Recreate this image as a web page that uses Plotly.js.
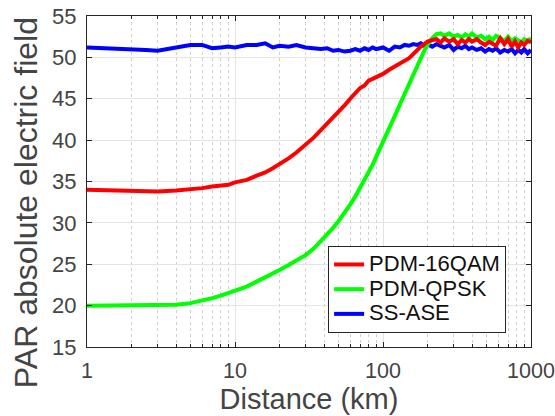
<!DOCTYPE html>
<html>
<head>
<meta charset="utf-8">
<script src="https://cdn.plot.ly/plotly-3.0.1.min.js"></script>
<style>html,body{margin:0;padding:0;background:#fff}#chart{width:555px;height:416px}</style>
</head>
<body>
<div id="chart"></div>
<script>
const distance = [1, 1.5, 2, 2.5, 3, 4, 5, 6, 7, 8, 9, 10, 12, 14, 16, 18, 20, 23, 26, 30, 34, 38, 42, 46, 50, 55, 60, 65, 70, 75, 80, 85, 90, 95, 100, 110, 120, 130, 140, 150, 160, 170, 180, 190, 200, 215, 230, 245, 260, 280, 300, 320, 340, 360, 380, 400, 430, 460, 490, 520, 550, 580, 620, 660, 700, 740, 780, 820, 860, 900, 950, 1000];

const pdm16qam = [34.0, 33.9, 33.8, 33.8, 33.8, 33.9, 34.0, 34.2, 34.4, 34.5, 34.6, 34.9, 35.2, 35.7, 36.1, 36.6, 37.1, 37.8, 38.5, 39.4, 40.3, 41.2, 42.0, 42.6, 43.3, 44.2, 45.0, 45.6, 46.3, 46.6, 47.2, 47.4, 47.6, 47.9, 48.0, 48.5, 48.9, 49.2, 49.6, 49.9, 50.4, 50.9, 51.3, 51.6, 51.9, 52.1, 52.2, 51.8, 52.3, 51.9, 52.2, 51.6, 52.1, 51.8, 52.2, 51.9, 52.2, 51.8, 51.5, 51.9, 51.7, 51.4, 52.3, 51.6, 52.2, 51.3, 51.9, 51.2, 51.8, 51.5, 52.0, 51.8];

const pdmqpsk = [20.0, 20.0, 20.0, 20.0, 20.0, 20.1, 20.3, 20.6, 20.9, 21.2, 21.5, 21.8, 22.3, 22.9, 23.4, 23.9, 24.3, 24.9, 25.4, 26.1, 26.9, 27.8, 28.7, 29.4, 30.2, 31.2, 32.2, 33.2, 34.2, 35.2, 36.1, 37.0, 38.0, 38.9, 39.6, 41.3, 42.9, 44.3, 45.6, 46.8, 48.0, 49.0, 49.9, 50.8, 51.5, 52.3, 52.8, 52.9, 52.6, 52.9, 52.5, 52.7, 52.4, 52.8, 52.5, 52.9, 52.4, 52.6, 52.2, 52.5, 52.1, 52.6, 52.3, 52.0, 52.5, 51.9, 52.3, 52.1, 51.8, 52.2, 52.0, 52.3];

const ssase = [51.2, 51.1, 51.0, 50.9, 50.8, 51.2, 51.5, 51.5, 51.1, 51.2, 51.3, 51.2, 51.5, 51.5, 51.7, 51.2, 51.4, 51.3, 51.5, 51.2, 51.1, 51.0, 51.1, 50.8, 50.9, 50.7, 50.8, 51.0, 50.8, 51.1, 50.9, 51.2, 51.0, 51.1, 51.2, 50.8, 51.3, 51.2, 51.5, 51.4, 51.6, 51.5, 51.7, 51.4, 51.6, 51.3, 51.6, 51.4, 51.2, 51.5, 50.9, 51.3, 51.1, 51.4, 51.0, 51.2, 50.9, 51.1, 50.7, 51.0, 50.8, 51.1, 50.6, 50.9, 50.7, 51.0, 50.5, 50.9, 50.6, 51.0, 50.5, 50.9];

const seriesNames = ['PDM-16QAM', 'PDM-QPSK', 'SS-ASE'];
const xTicks = [1, 10, 100, 1000];
const xTickText = ['1', '10', '100', '1000'];
const xMinorTicks = [2, 3, 4, 5, 6, 7, 8, 9, 20, 30, 40, 50, 60, 70, 80, 90, 200, 300, 400, 500, 600, 700, 800, 900];
const yTicks = [15, 20, 25, 30, 35, 40, 45, 50, 55];

const FONT = 'Liberation Sans, Arial, Helvetica, sans-serif';
const INK = '#262626';
const legendName = n => '<span style="font-size:22px">' + n + '</span>';

const traces = [
  {x: distance, y: ssase, name: legendName(seriesNames[2]), mode: 'lines', line: {color: '#0000ff', width: 4}, legendrank: 3},
  {x: distance, y: pdmqpsk, name: legendName(seriesNames[1]), mode: 'lines', line: {color: '#00ff00', width: 4}, legendrank: 2},
  {x: distance, y: pdm16qam, name: legendName(seriesNames[0]), mode: 'lines', line: {color: '#ff0000', width: 4}, legendrank: 1}
];

const layout = {
  width: 555, height: 416,
  margin: {l: 87, r: 24, t: 16, b: 69},
  paper_bgcolor: '#fff', plot_bgcolor: '#fff',
  font: {family: FONT, color: INK},
  showlegend: true,
  legend: {
    x: 0.543, y: 0.042, xanchor: 'left', yanchor: 'bottom',
    bgcolor: '#fff', bordercolor: INK, borderwidth: 1,
    font: {family: FONT, size: 16.7, color: '#111'},
    tracegroupgap: 0, itemwidth: 30
  },
  xaxis: {
    type: 'log', range: [0, 3],
    tickmode: 'array', tickvals: xTicks, ticktext: xTickText,
    ticks: 'inside', ticklen: 5, tickcolor: INK,
    ticklabeloverflow: 'allow', ticklabelstandoff: 4,
    showline: true, linecolor: INK, linewidth: 1, mirror: 'ticks',
    showgrid: true, gridcolor: '#e3e3e3', gridwidth: 1,
    zeroline: false,
    tickfont: {family: FONT, size: 21.5, color: '#444'},
    minor: {tickmode: 'array', tickvals: xMinorTicks, ticks: 'inside', ticklen: 3, tickcolor: INK, showgrid: true, gridcolor: '#d0d0d0', griddash: 'dot', gridwidth: 1},
    title: {text: 'Distance (km)', font: {family: FONT, size: 29, color: '#444'}, standoff: 4}
  },
  yaxis: {
    range: [15, 55],
    tickmode: 'array', tickvals: yTicks,
    ticks: 'inside', ticklen: 5, tickcolor: INK,
    ticklabelstandoff: 5,
    showline: true, linecolor: INK, linewidth: 1, mirror: 'ticks',
    showgrid: true, gridcolor: '#e3e3e3', gridwidth: 1,
    zeroline: false,
    tickfont: {family: FONT, size: 22, color: '#444'}
  },
  annotations: [{
    text: 'PAR absolute electric field', textangle: -90,
    xref: 'paper', yref: 'paper', x: -0.137, y: 0.435,
    xanchor: 'center', yanchor: 'middle', showarrow: false,
    font: {family: FONT, size: 32, color: '#444'}
  }]
};

Plotly.newPlot('chart', traces, layout, {displayModeBar: false, staticPlot: true});
</script>
</body>
</html>
